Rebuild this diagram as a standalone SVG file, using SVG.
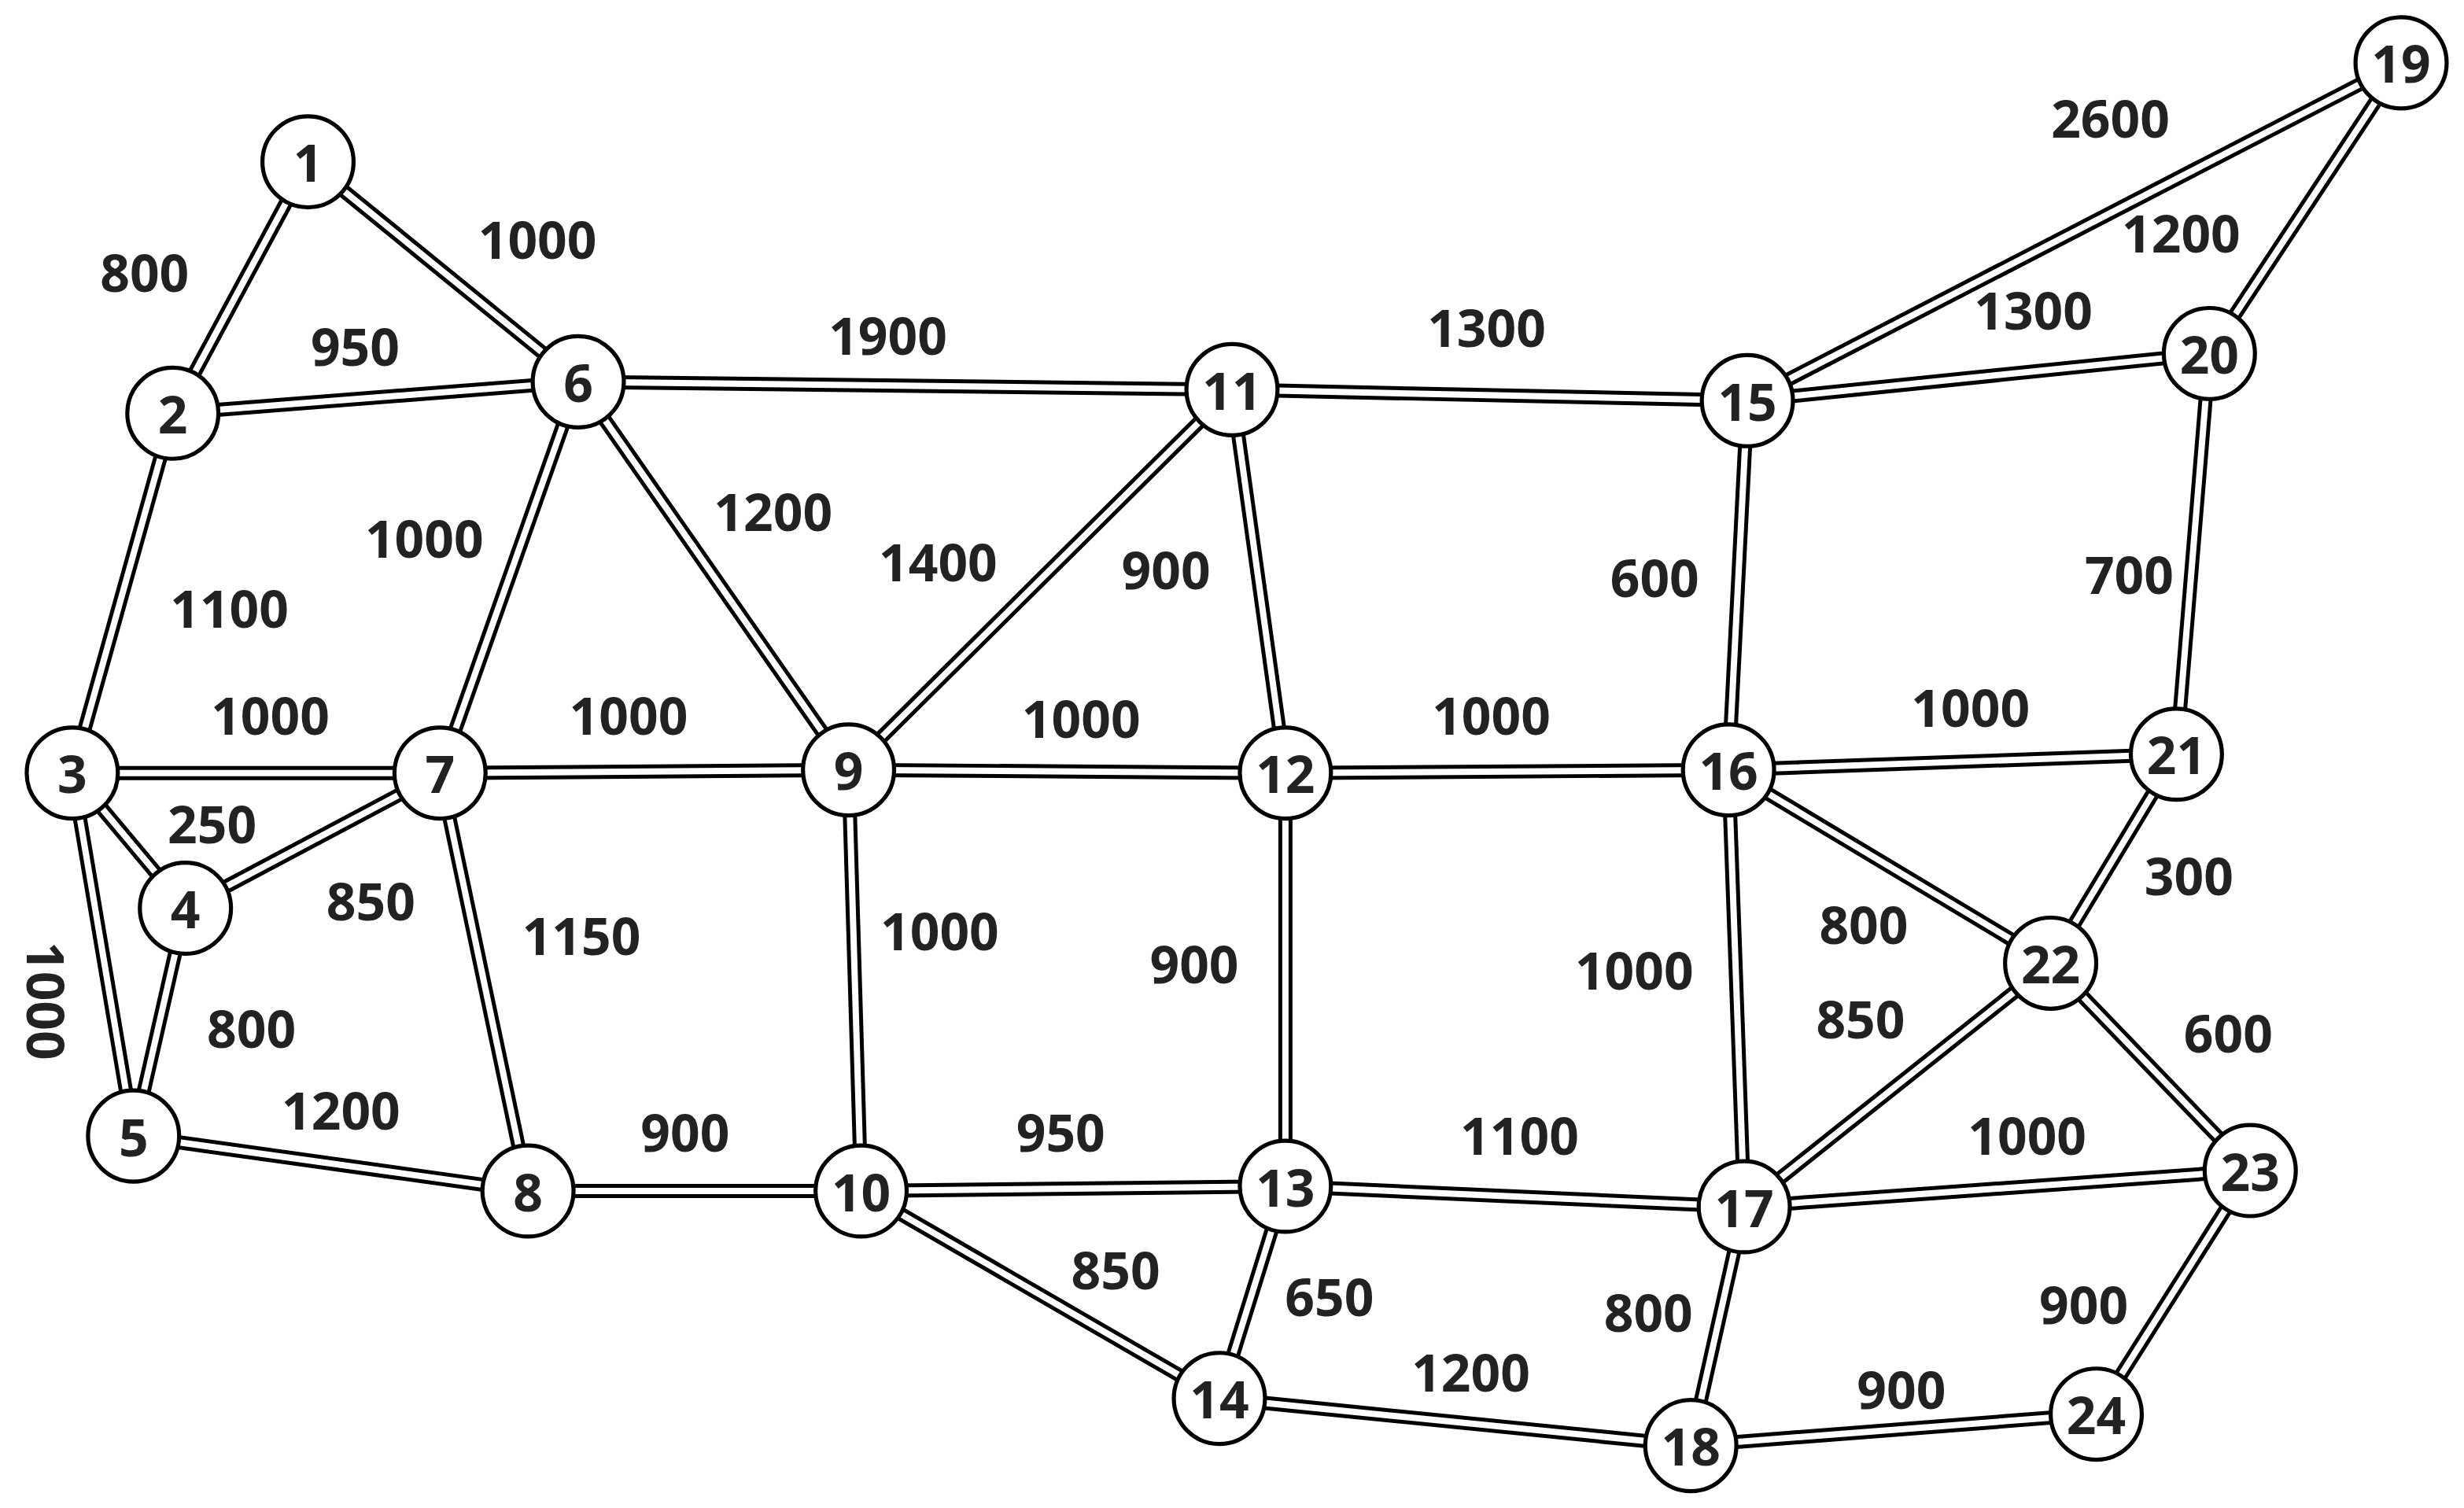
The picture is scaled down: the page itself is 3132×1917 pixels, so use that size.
<svg xmlns="http://www.w3.org/2000/svg" xmlns:xlink="http://www.w3.org/1999/xlink" width="3132" height="1917" viewBox="0 0 3132 1917">
<style>
.o{stroke:#000;stroke-width:9;fill:none;stroke-linecap:butt}
.i{stroke:#fff;stroke-width:4;fill:none}
circle{fill:#fff;stroke:#000;stroke-width:2.6}
text{font-family:"Open Sans","Liberation Sans",sans-serif;font-weight:bold;font-size:33px;fill:#222;text-anchor:middle;dominant-baseline:central}
</style>
<rect width="3132" height="1917" fill="#fff"/>
<g transform="scale(1.9974)">
<defs>
<path id="e" d="M196,103L110,263M196,103L368,243M110,263L368,243M110,263L46,492M46,492L280,492M46,492L118,578M46,492L85,723M118,578L280,492M118,578L85,723M85,723L336,758M368,243L280,492M368,243L540,490M368,243L784,248M280,492L540,490M280,492L336,758M336,758L548,758M540,490L784,248M540,490L818,492M540,490L548,758M548,758L818,755M548,758L776,890M784,248L818,492M784,248L1112,255M818,492L1100,490M818,492L818,755M818,755L1110,768M818,755L776,890M776,890L1076,920M1112,255L1528,40M1112,255L1406,225M1112,255L1100,490M1528,40L1406,225M1406,225L1385,480M1100,490L1385,480M1100,490L1305,613M1100,490L1110,768M1385,480L1305,613M1305,613L1110,768M1305,613L1432,745M1110,768L1432,745M1110,768L1076,920M1076,920L1334,900M1334,900L1432,745"/>
</defs>
<g id="connectors"><use xlink:href="#e" class="o"/><use xlink:href="#e" class="i"/></g>
<g id="n1"><circle cx="196" cy="103" r="29"/><text x="196" y="103">1</text></g>
<g id="n2"><circle cx="110" cy="263" r="29"/><text x="110" y="263">2</text></g>
<g id="n3"><circle cx="46" cy="492" r="29"/><text x="46" y="492">3</text></g>
<g id="n4"><circle cx="118" cy="578" r="29"/><text x="118" y="578">4</text></g>
<g id="n5"><circle cx="85" cy="723" r="29"/><text x="85" y="723">5</text></g>
<g id="n6"><circle cx="368" cy="243" r="29"/><text x="368" y="243">6</text></g>
<g id="n7"><circle cx="280" cy="492" r="29"/><text x="280" y="492">7</text></g>
<g id="n8"><circle cx="336" cy="758" r="29"/><text x="336" y="758">8</text></g>
<g id="n9"><circle cx="540" cy="490" r="29"/><text x="540" y="490">9</text></g>
<g id="n10"><circle cx="548" cy="758" r="29"/><text x="548" y="758">10</text></g>
<g id="n11"><circle cx="784" cy="248" r="29"/><text x="784" y="248">11</text></g>
<g id="n12"><circle cx="818" cy="492" r="29"/><text x="818" y="492">12</text></g>
<g id="n13"><circle cx="818" cy="755" r="29"/><text x="818" y="755">13</text></g>
<g id="n14"><circle cx="776" cy="890" r="29"/><text x="776" y="890">14</text></g>
<g id="n15"><circle cx="1112" cy="255" r="29"/><text x="1112" y="255">15</text></g>
<g id="n16"><circle cx="1100" cy="490" r="29"/><text x="1100" y="490">16</text></g>
<g id="n17"><circle cx="1110" cy="768" r="29"/><text x="1110" y="768">17</text></g>
<g id="n18"><circle cx="1076" cy="920" r="29"/><text x="1076" y="920">18</text></g>
<g id="n19"><circle cx="1528" cy="40" r="29"/><text x="1528" y="40">19</text></g>
<g id="n20"><circle cx="1406" cy="225" r="29"/><text x="1406" y="225">20</text></g>
<g id="n21"><circle cx="1385" cy="480" r="29"/><text x="1385" y="480">21</text></g>
<g id="n22"><circle cx="1305" cy="613" r="29"/><text x="1305" y="613">22</text></g>
<g id="n23"><circle cx="1432" cy="745" r="29"/><text x="1432" y="745">23</text></g>
<g id="n24"><circle cx="1334" cy="900" r="29"/><text x="1334" y="900">24</text></g>
<g id="labels">
<text x="92" y="173">800</text><text x="342" y="152">1000</text><text x="226" y="220">950</text>
<text x="565" y="213">1900</text><text x="946" y="208">1300</text><text x="1343" y="75">2600</text>
<text x="1388" y="148">1200</text><text x="1294" y="197">1300</text><text x="146" y="387">1100</text>
<text x="270" y="342">1000</text><text x="492" y="325">1200</text><text x="597" y="357">1400</text>
<text x="742" y="362">900</text><text x="1053" y="367">600</text><text x="1355" y="365">700</text>
<text x="172" y="455">1000</text><text x="400" y="455">1000</text><text x="688" y="457">1000</text>
<text x="949" y="455">1000</text><text x="1254" y="450">1000</text><text x="135" y="524">250</text>
<text x="236" y="573">850</text><text x="370" y="595">1150</text><text x="598" y="592">1000</text>
<text x="760" y="613">900</text><text x="1040" y="617">1000</text><text x="1186" y="588">800</text>
<text x="1184" y="648">850</text><text x="1393" y="557">300</text><text x="1418" y="657">600</text>
<text x="30" y="637" transform="rotate(90 30 637)">1000</text>
<text x="160" y="654">800</text><text x="217" y="706">1200</text><text x="436" y="720">900</text>
<text x="675" y="720">950</text><text x="967" y="722">1100</text><text x="1290" y="722">1000</text>
<text x="710" y="808">850</text><text x="846" y="825">650</text><text x="1049" y="835">800</text>
<text x="936" y="873">1200</text><text x="1326" y="830">900</text><text x="1210" y="884">900</text>
</g>
</g>
</svg>
